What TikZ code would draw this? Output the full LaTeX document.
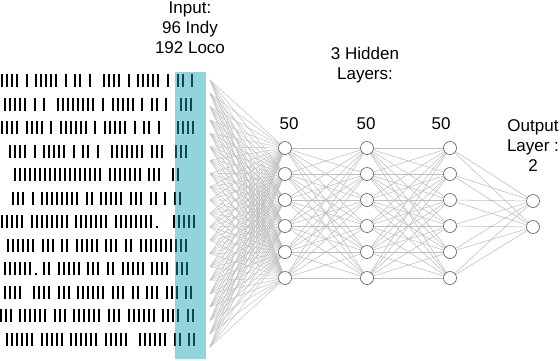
\documentclass[tikz,border=0pt]{standalone}
\usepackage{fontspec}
\setmainfont{Liberation Sans}
\usepackage{xcolor}
\usetikzlibrary{backgrounds}

\definecolor{panelcyan}{RGB}{146,212,222}
\definecolor{spiketeal}{RGB}{15,70,80}
\definecolor{wiregray}{RGB}{190,190,190}

% one raster row: #1 colour, #2 y, #3 start x, #4 word lengths (0 = extra gap, -1 = dot)
\newcommand{\spikerow}[4]{%
  \xdef\spkx{#3}%
  \foreach \w in {#4}{%
    \ifnum\w<0
      \fill[#1] (\spkx-4.6,#2+4.6) rectangle ++(2,1.9);
    \else
      \ifnum\w>0
        \foreach \k in {1,...,\w}{%
          \fill[#1] (\spkx-1,#2-6.5) rectangle ++(2,13);
          \pgfmathsetmacro\spkn{\spkx+5}\xdef\spkx{\spkn}}%
      \fi
    \fi
    \pgfmathsetmacro\spkn{\spkx+4.6}\xdef\spkx{\spkn}}}
\newcommand{\spikerows}[1]{%
  \spikerow{#1}{80}{2}{4,1,5,1,2,1,0,4,1,5,1,2,1}
  \spikerow{#1}{104}{5}{5,1,1,0,8,1,5,1,2,1,0,3}
  \spikerow{#1}{127.5}{2}{4,4,1,6,1,5,1,2,1,0,0,4}
  \spikerow{#1}{151}{10}{4,1,5,1,2,1,0,7,3,0,3}
  \spikerow{#1}{174.5}{15}{18,7,3,0,2}
  \spikerow{#1}{198}{13}{3,1,8,2,5,3,2,1,2}
  \spikerow{#1}{221.5}{2}{5,8,7,8,-1,0,0,5}
  \spikerow{#1}{245}{8}{6,3,2,5,3,2,10}
  \spikerow{#1}{268.5}{5}{6,-1,2,5,3,2,5,4,3}
  \spikerow{#1}{292}{5}{4,0,4,3,6,3,2,3,3,2}
  \spikerow{#1}{315.5}{0.5}{3,6,3,6,3,6,4,2}
  \spikerow{#1}{339.5}{7}{6,5,6,5,0,6,2,2}}

\begin{document}
\begin{tikzpicture}[x=1pt,y=-1pt,
  neuron/.style={circle,draw=black!65,line width=0.6pt,fill=white,
                 minimum size=13pt,inner sep=0pt},
  panel/.style={rectangle,fill=panelcyan,minimum width=31pt,minimum height=287pt,
                inner sep=0pt},
  lbl/.style={font=\fontsize{17}{20}\selectfont,align=center,inner sep=0pt},
  fan/.style={draw=wiregray,line width=0.45pt},
  wire/.style={draw=wiregray,line width=0.55pt}
]
\useasboundingbox (0,0) rectangle (560,360);
% spike raster with the input column on top
\spikerows{black}
\node[panel] (inp) at (190.5,215.5) {};
\begin{scope}
  \clip (inp.south west) rectangle (inp.north east);
  \spikerows{spiketeal}
\end{scope}
% layers
\foreach \i in {0,...,20} \coordinate (in\i) at (210,80+13.35*\i);
\foreach \c/\x in {1/285,2/367,3/450}
  \foreach \r in {1,...,6} \node[neuron] (h\c-\r) at (\x,122+26*\r) {};
\node[neuron] (o1) at (533,201) {};
\node[neuron] (o2) at (533,227) {};
\begin{scope}[on background layer]
  \foreach \i in {0,...,20} \foreach \r in {1,...,6} \draw[fan] (in\i) -- (h1-\r);
  \foreach \a/\b in {1/2,2/3} \foreach \r in {1,...,6} \foreach \s in {1,...,6}
    \draw[wire] (h\a-\r) -- (h\b-\s);
  \foreach \r in {1,...,6} \foreach \s in {1,2} \draw[wire] (h3-\r) -- (o\s);
\end{scope}
% labels
\node[lbl] (tin)  at (190,27.5) {Input:\\96 Indy\\192 Loco};
\node[lbl] (thid) at (365,65.5) {3 Hidden\\Layers:};
\node[lbl] (n1) at (289,124) {50};
\node[lbl] (n2) at (366,124) {50};
\node[lbl] (n3) at (441,124) {50};
\node[lbl] (tout) at (533,145.5) {Output\\Layer :\\2};
\end{tikzpicture}
\end{document}
